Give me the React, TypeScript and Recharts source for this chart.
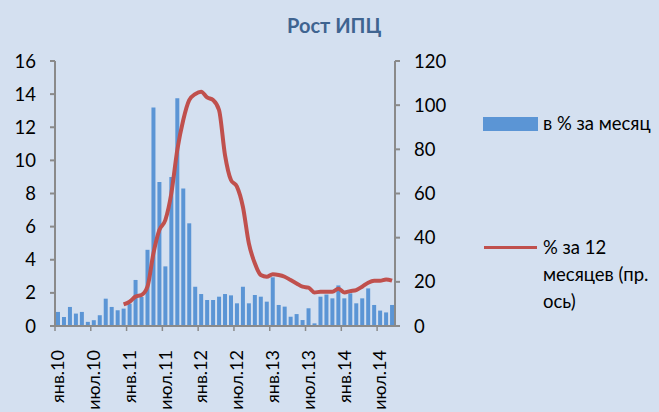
import React from 'react';
import { ComposedChart, Bar, Line, XAxis, YAxis } from 'recharts';

// months Jan 2010 .. Sep 2014
const monthNames = ['янв', 'фев', 'мар', 'апр', 'май', 'июн', 'июл', 'авг', 'сен', 'окт', 'ноя', 'дек'];
const years = ['10', '11', '12', '13', '14'];
const months = years.flatMap((y) => monthNames.map((m) => `${m}.${y}`)).slice(0, 57);

// monthly CPI growth, %
const monthly = [
  0.85, 0.55, 1.15, 0.75, 0.85, 0.25, 0.35, 0.65, 1.65, 1.15, 0.95, 1.05,
  1.35, 2.78, 1.75, 4.6, 13.2, 8.7, 3.6, 9.0, 13.75, 8.3, 6.2, 2.37,
  1.93, 1.57, 1.57, 1.77, 1.93, 1.85, 1.37, 2.37, 1.37, 1.87, 1.77, 1.47,
  2.94, 1.27, 1.17, 0.56, 0.72, 0.36, 1.07, 0.16, 1.77, 1.9, 1.67, 2.45,
  1.67, 1.97, 1.37, 1.67, 2.27, 1.27, 0.93, 0.82, 1.27,
];

// 12-month growth, % (right axis), starts Dec 2010
const yearly: (number | null)[] = [
  null, null, null, null, null, null, null, null, null, null, null, 9.8,
  11.0, 13.3, 14.0, 17.8, 32.9, 43.5, 48.0, 60.0, 79.7, 93.3, 102.3, 105.0,
  106.1, 103.5, 102.3, 97.8, 77.4, 66.1, 63.1, 54.0, 37.4, 28.4, 23.1, 22.3,
  23.4, 23.1, 22.3, 20.8, 19.3, 17.8, 17.4, 15.2, 15.5, 15.5, 15.5, 16.9,
  15.2, 15.8, 16.3, 17.8, 19.6, 20.5, 20.5, 21.1, 20.5,
];

const leftTicks = [0, 2, 4, 6, 8, 10, 12, 14, 16];
const rightTicks = [0, 20, 40, 60, 80, 100, 120];

const data = months.map((m, i) => ({ month: m, monthly: monthly[i], yearly: yearly[i] }));

const FONT = 'Lato, "Open Sans", sans-serif';
const AXIS = '#8a8a8a';
const BAND = 340 / months.length;

const XTick = (props: any) => {
  const { x, y, payload } = props;
  return (
    <g>
      <line x1={x - BAND / 2} x2={x - BAND / 2} y1={y - 8} y2={y - 3} stroke={AXIS} strokeWidth={1.5} />
      <text
        x={x}
        y={y + 16}
        transform={`rotate(-90, ${x}, ${y + 16})`}
        textAnchor="end"
        dy="0.35em"
        fontSize={18}
        fontFamily={FONT}
        fill="#000"
      >
        {payload.value}
      </text>
    </g>
  );
};

const LegendBox = () => (
  <div style={{ position: 'absolute', left: 483, top: 0, width: 200, fontFamily: FONT, fontSize: 18.5, color: '#000' }}>
    <div style={{ position: 'absolute', left: 0, top: 117, width: 55, height: 14, background: '#5b95d5' }} />
    <div style={{ position: 'absolute', left: 60, top: 112, whiteSpace: 'nowrap' }}>в % за месяц</div>
    <div style={{ position: 'absolute', left: 1, top: 246, width: 53, height: 3, background: '#c0504d' }} />
    <div style={{ position: 'absolute', left: 60, top: 234, lineHeight: '27px', whiteSpace: 'nowrap' }}>
      % за 12
      <br />
      месяцев (пр.
      <br />
      ось)
    </div>
  </div>
);

export default function App() {
  return (
    <div
      style={{
        position: 'absolute',
        left: 0,
        top: 0,
        width: 659,
        height: 412,
        background: '#d4e0f0',
        overflow: 'hidden',
      }}
    >
      <div
        style={{
          position: 'absolute',
          left: 287,
          top: 13,
          fontFamily: FONT,
          fontWeight: 'bold',
          fontSize: 20,
          color: '#3f6490',
        }}
      >
        Рост ИПЦ
      </div>
      <ComposedChart
        width={659}
        height={412}
        data={data}
        margin={{ top: 61, right: 204, bottom: 0, left: 0 }}
        barCategoryGap="17%"
      >
        <XAxis
          dataKey="month"
          interval={5}
          height={86}
          stroke={AXIS}
          strokeWidth={2}
          tickLine={false}
          tick={<XTick />}
        />
        <YAxis
          yAxisId="left"
          width={55}
          domain={[0, 16]}
          ticks={leftTicks}
          stroke={AXIS}
          strokeWidth={2}
          tickSize={5}
          tick={{ fill: '#000', fontSize: 18.5, fontFamily: FONT, dx: -12 }}
        />
        <YAxis
          yAxisId="right"
          orientation="right"
          width={60}
          domain={[0, 120]}
          ticks={rightTicks}
          stroke={AXIS}
          strokeWidth={2}
          tickSize={5}
          tick={{ fill: '#000', fontSize: 18.5, fontFamily: FONT, dx: 12 }}
        />
        <Bar yAxisId="left" dataKey="monthly" name="в % за месяц" fill="#5b95d5" isAnimationActive={false} />
        <Line
          yAxisId="right"
          dataKey="yearly"
          name="% за 12 месяцев (пр. ось)"
          type="monotone"
          stroke="#c0504d"
          strokeWidth={4}
          dot={false}
          connectNulls={false}
          isAnimationActive={false}
        />
      </ComposedChart>
      <LegendBox />
    </div>
  );
}
